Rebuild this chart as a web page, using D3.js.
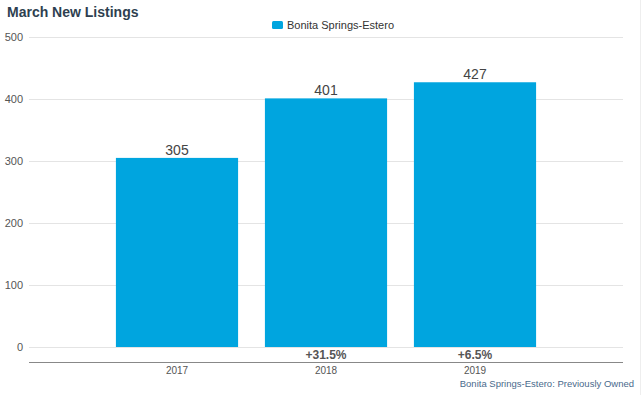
<!DOCTYPE html>
<html>
<head>
<meta charset="utf-8">
<script src="https://cdn.jsdelivr.net/npm/d3@7"></script>
<style>
  body { margin: 0; background: #fff; }
  svg { font-family: "Liberation Sans", Arial, sans-serif; }
</style>
</head>
<body>
<svg id="chart" width="644" height="395"></svg>
<script>
const years = ["2017", "2018", "2019"]
const listings = [305, 401, 427]
const changes = ["", "+31.5%", "+6.5%"]
const yTicks = [0, 100, 200, 300, 400, 500]

const svg = d3.select("#chart")

const x = d3.scaleBand().domain(years).range([102.5, 549.5]).paddingInner(0.18).paddingOuter(0.09)
const y = d3.scaleLinear().domain([0, 500]).range([347, 37])

// right border
svg.append("line").attr("x1", 640.5).attr("x2", 640.5).attr("y1", 0).attr("y2", 395)
  .attr("stroke", "#eeeeee")

svg.append("text").attr("x", 7).attr("y", 17)
  .attr("font-size", 14).attr("font-weight", "bold").attr("fill", "#2e3f50")
  .text("March New Listings")

// legend
svg.append("rect").attr("x", 272).attr("y", 21).attr("width", 11).attr("height", 8).attr("rx", 1.5)
  .attr("fill", "#00a5df")
svg.append("text").attr("x", 287).attr("y", 29).attr("font-size", 11).attr("fill", "#333")
  .text("Bonita Springs-Estero")

// grid + y axis labels
const yAxis = svg.append("g").attr("transform", "translate(29,0)")
  .call(d3.axisLeft(y).tickValues(yTicks).tickSize(-594).tickPadding(6))
yAxis.select(".domain").remove()
yAxis.selectAll(".tick line").attr("stroke", "#e4e4e4")
yAxis.selectAll(".tick text").attr("font-size", 11).attr("fill", "#555")
  .attr("font-family", "Liberation Sans, Arial, sans-serif").attr("text-anchor", "end")
  .attr("x", -6)

// bars
svg.selectAll(".bar").data(listings).join("rect")
  .attr("class", "bar")
  .attr("x", (d, i) => x(years[i]))
  .attr("width", x.bandwidth())
  .attr("y", d => y(d))
  .attr("height", d => y(0) - y(d))
  .attr("fill", "#00a5df")

svg.selectAll(".val").data(listings).join("text")
  .attr("class", "val")
  .attr("x", (d, i) => x(years[i]) + x.bandwidth() / 2)
  .attr("y", d => y(d) - 3)
  .attr("text-anchor", "middle").attr("font-size", 14).attr("fill", "#444")
  .text(d => d)

svg.selectAll(".chg").data(changes).join("text")
  .attr("class", "chg")
  .attr("x", (d, i) => x(years[i]) + x.bandwidth() / 2)
  .attr("y", 359)
  .attr("text-anchor", "middle").attr("font-size", 12).attr("font-weight", "bold").attr("fill", "#555")
  .text(d => d)

// x axis
const xAxis = svg.append("g").attr("transform", "translate(0,362)")
  .call(d3.axisBottom(x).tickSize(0).tickPadding(5))
xAxis.select(".domain").attr("d", "M29,0.5H623").attr("stroke", "#888")
xAxis.selectAll(".tick text").attr("font-size", 10).attr("fill", "#555")
  .attr("font-family", "Liberation Sans, Arial, sans-serif")

svg.append("text").attr("x", 634).attr("y", 387).attr("text-anchor", "end")
  .attr("font-size", 9.5).attr("fill", "#4a6a8c")
  .text("Bonita Springs-Estero: Previously Owned")
</script>
</body>
</html>
